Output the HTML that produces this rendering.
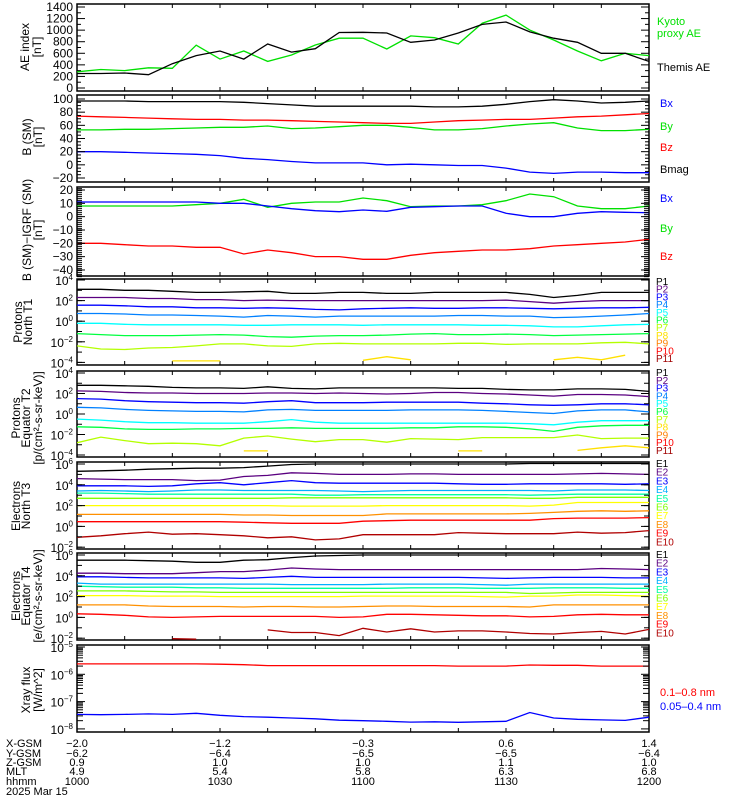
<!DOCTYPE html>
<html><head><meta charset="utf-8">
<style>
html,body{margin:0;padding:0;background:#fff;}
svg{display:block;font-family:"Liberation Sans",sans-serif;}
</style></head>
<body>
<svg id="chart" width="750" height="800" viewBox="0 0 750 800" xmlns="http://www.w3.org/2000/svg">
<rect x="0" y="0" width="750" height="800" fill="#fff"/>
<g id="panels"></g>
</svg>
<script>
// ---- data (5-minute samples, 10:00 - 12:00) ----
const minutes = [0,5,10,15,20,25,30,35,40,45,50,55,60,65,70,75,80,85,90,95,100,105,110,115,120];
const timeTicks = ['1000','1030','1100','1130','1200'];
const xgsm = ['-2.0','-1.2','-0.3','0.6','1.4'];
const ygsm = ['-6.2','-6.4','-6.5','-6.5','-6.4'];
const zgsm = ['0.9','1.0','1.0','1.1','1.0'];
const mlt = ['4.9','5.4','5.8','6.3','6.8'];

const themisAE = [250,250,260,230,420,560,640,500,760,620,680,960,962,950,790,830,950,1100,1140,970,860,790,600,600,460];
const kyotoAE = [280,320,300,350,340,740,500,640,460,570,743,860,860,674,900,870,760,1120,1260,1000,830,640,470,600,560];
const aeTicks = [0,200,400,600,800,1000,1200,1400];

const bBx = [20,20,19,18,17,16,14,10,8,5,3,3,3,0,1,0,-1,-1,-5,-11,-13,-11,-11,-12,-12];
const bBy = [53,53,54,54,55,56,57,57,59,55,56,58,60,60,57,53,53,55,59,62,64,56,52,52,54];
const bBz = [74,73,72,71,70,69,69,68,68,67,66,65,64,63,63,65,67,68,69,69,71,73,74,76,78];
const bMag = [97,97,97,96,96,96,96,95,93,91,89,89,89,89,89,88,88,89,92,96,99,97,94,95,97];
const bTicks = [-20,0,20,40,60,80,100];

const dBx = [11,11,11,11,11,11,10,10,8,6,4.5,3.7,5,4,7,7.5,8,8,2.5,0,0,2.5,3.7,3.3,3];
const dBy = [8,8,8,8,8,9,10,13,7,10,11,11,14,12,7.5,8,8,9,12,17,15,8,6,6,8];
const dBz = [-20,-20,-21,-22,-22,-23,-23,-28,-25,-27,-30,-30,-32,-32,-29,-27,-26,-25,-25,-24,-22,-21,-20,-19,-17];
const dbTicks = [-40,-30,-20,-10,0,10,20];

// log10 fluxes
const pN = [
 [3.1,3.1,3.0,3.0,2.9,2.8,2.8,2.85,2.9,2.7,2.7,2.8,2.8,2.7,2.7,2.8,2.8,2.8,2.8,2.6,2.3,2.5,2.8,2.8,2.8],
 [2.3,2.3,2.3,2.2,2.2,2.1,2.1,2.0,2.05,2.0,2.0,2.0,2.0,2.0,2.0,2.0,2.0,2.0,2.05,1.9,1.75,1.9,2.0,2.0,2.0],
 [1.55,1.55,1.5,1.4,1.4,1.3,1.3,1.25,1.3,1.25,1.15,1.1,1.2,1.25,1.3,1.25,1.25,1.3,1.3,1.25,1.2,1.25,1.3,1.3,1.35],
 [0.75,0.75,0.7,0.6,0.6,0.55,0.5,0.4,0.55,0.5,0.4,0.5,0.5,0.5,0.5,0.5,0.55,0.55,0.5,0.5,0.35,0.4,0.5,0.6,0.75],
 [-0.2,-0.2,-0.3,-0.35,-0.35,-0.35,-0.35,-0.4,-0.4,-0.35,-0.35,-0.35,-0.4,-0.35,-0.35,-0.35,-0.35,-0.4,-0.4,-0.45,-0.55,-0.55,-0.45,-0.35,-0.3],
 [-1.2,-1.3,-1.4,-1.4,-1.4,-1.35,-1.3,-1.35,-1.5,-1.55,-1.45,-1.4,-1.4,-1.35,-1.25,-1.2,-1.3,-1.3,-1.25,-1.3,-1.4,-1.35,-1.3,-1.25,-1.2],
 [-2.4,-2.7,-2.75,-2.6,-2.55,-2.4,-2.2,-2.2,-2.4,-2.45,-2.2,-2.15,-2.2,-2.2,-2.2,-2.2,-2.15,-2.15,-2.25,-2.2,-2.2,-2.2,-2.1,-2.05,-2.2],
 [null,null,null,null,-3.85,-3.85,-3.85,null,null,null,null,null,-3.8,-3.45,-3.75,null,null,null,null,null,-3.75,-3.5,-3.75,-3.3,null]
];
const pE = [
 [2.8,2.8,2.75,2.7,2.6,2.55,2.55,2.5,2.65,2.5,2.45,2.55,2.55,2.55,2.55,2.55,2.5,2.5,2.4,2.35,2.35,2.45,2.45,2.4,2.2],
 [2.25,2.2,2.1,2.05,2.05,2.0,2.0,2.0,2.05,2.05,2.0,2.05,2.0,1.95,2.0,2.1,2.1,2.0,1.95,1.85,1.75,1.9,1.9,1.85,1.7],
 [1.5,1.45,1.3,1.2,1.15,1.1,1.1,1.05,1.2,1.3,1.1,1.1,1.1,1.15,1.15,1.15,1.15,1.05,1.0,0.9,0.85,0.9,1.0,1.0,0.9],
 [0.65,0.6,0.45,0.35,0.3,0.25,0.25,0.2,0.4,0.45,0.35,0.35,0.35,0.35,0.4,0.4,0.4,0.35,0.25,0.15,0.05,0.3,0.4,0.4,0.2],
 [-0.5,-0.6,-0.75,-0.85,-0.85,-0.9,-0.9,-0.9,-0.75,-0.55,-0.8,-0.9,-0.9,-0.9,-0.9,-0.9,-0.9,-0.9,-0.9,-0.95,-1.05,-0.8,-0.65,-0.65,-0.65],
 [-1.25,-1.3,-1.45,-1.5,-1.5,-1.45,-1.45,-1.4,-1.4,-1.35,-1.4,-1.4,-1.4,-1.4,-1.35,-1.35,-1.25,-1.25,-1.3,-1.45,-1.7,-1.3,-1.15,-1.1,-1.1],
 [-2.8,-2.25,-2.6,-2.9,-2.85,-2.9,-3.1,-2.35,-2.15,-2.45,-2.7,-2.5,-2.5,-2.75,-2.4,-2.45,-2.5,-2.3,-2.3,-2.3,-2.3,-2.05,-2.4,-2.35,-2.35],
 [null,null,null,null,null,null,null,-3.6,-3.6,null,null,null,null,null,null,null,-3.6,-3.6,null,null,null,-3.55,-3.3,-3.1,-3.3]
];
const eN = [
 [5.3,5.35,5.4,5.5,5.55,5.6,5.6,5.65,5.8,5.95,6.0,6.0,6.0,6.0,6.0,6.0,6.0,6.0,6.0,6.05,6.05,6.05,6.05,6.05,6.05],
 [4.6,4.55,4.5,4.5,4.5,4.4,4.45,4.8,4.9,5.15,5.1,5.0,5.0,5.0,5.05,5.05,5.0,5.0,5.0,5.0,5.0,5.05,5.1,5.05,5.0],
 [3.9,3.9,3.9,3.85,3.9,4.1,4.2,4.0,4.2,4.4,4.2,4.15,4.15,4.15,4.15,4.15,4.1,4.05,4.05,4.1,4.1,4.1,4.1,4.05,4.1],
 [3.4,3.45,3.4,3.35,3.4,3.5,3.5,3.45,3.45,3.45,3.45,3.4,3.35,3.4,3.45,3.45,3.45,3.45,3.45,3.45,3.4,3.5,3.5,3.5,3.45],
 [3.2,3.2,3.15,3.1,3.1,3.1,3.1,3.1,3.1,3.1,3.0,3.0,3.05,3.05,3.05,3.05,3.05,3.05,3.05,3.0,3.05,3.1,3.1,3.1,3.1],
 [2.7,2.7,2.7,2.7,2.7,2.7,2.7,2.7,2.7,2.75,2.75,2.75,2.75,2.75,2.75,2.75,2.75,2.75,2.75,2.7,2.7,2.8,2.8,2.8,2.8],
 [2.0,2.0,2.0,2.0,2.0,2.0,2.0,2.0,2.0,1.95,1.95,1.95,1.95,2.0,2.0,2.0,2.0,2.0,2.0,1.95,2.05,2.3,2.3,2.3,2.3],
 [1.15,1.15,1.15,1.15,1.15,1.15,1.15,1.1,1.1,1.05,1.05,1.05,1.05,1.2,1.2,1.2,1.2,1.2,1.2,1.25,1.35,1.45,1.5,1.45,1.5],
 [0.45,0.45,0.45,0.45,0.45,0.45,0.45,0.4,0.35,0.3,0.3,0.3,0.5,0.55,0.6,0.6,0.6,0.6,0.6,0.6,0.75,0.8,0.8,0.8,0.85],
 [-1.05,-0.9,-0.7,-0.55,-0.75,-0.7,-0.8,-0.9,-1.1,-1.0,-1.3,-1.2,-0.8,-0.8,-0.8,-0.8,-0.6,-0.65,-0.7,-0.7,-0.7,-0.55,-0.65,-0.6,-0.4]
];
const eE = [
 [5.5,5.5,5.5,5.45,5.4,5.3,5.3,5.5,5.55,5.75,5.9,5.95,6.0,6.0,6.0,6.0,6.0,6.0,6.0,6.0,6.0,6.0,6.0,6.0,6.0],
 [4.25,4.25,4.2,4.2,4.2,4.3,4.4,4.4,4.55,4.75,4.65,4.6,4.6,4.6,4.6,4.6,4.6,4.6,4.6,4.6,4.6,4.6,4.7,4.65,4.6],
 [3.9,3.9,3.85,3.8,3.8,3.8,3.8,3.75,3.85,3.95,3.85,3.85,3.85,3.85,3.85,3.85,3.85,3.8,3.75,3.8,3.85,3.85,3.85,3.8,3.8],
 [3.3,3.2,3.2,3.2,3.2,3.2,3.2,3.2,3.2,3.15,3.15,3.15,3.15,3.2,3.2,3.2,3.2,3.15,3.1,3.2,3.2,3.2,3.2,3.2,3.2],
 [3.0,2.95,2.9,2.9,2.9,2.85,2.85,2.8,2.8,2.8,2.8,2.8,2.8,2.8,2.85,2.85,2.85,2.8,2.8,2.8,2.85,2.85,2.85,2.8,2.8],
 [2.55,2.55,2.55,2.5,2.45,2.45,2.4,2.4,2.4,2.4,2.4,2.4,2.4,2.4,2.4,2.4,2.4,2.4,2.4,2.3,2.35,2.4,2.4,2.4,2.4],
 [2.1,2.1,2.1,2.05,2.05,2.05,2.0,2.0,2.0,2.0,2.0,2.0,2.05,2.05,2.05,2.05,2.05,2.0,1.95,2.05,2.05,2.15,2.15,2.1,2.05],
 [1.2,1.2,1.2,1.1,1.05,1.05,1.05,1.0,1.05,1.05,1.0,1.0,1.05,1.1,1.1,1.05,1.05,1.05,1.05,1.0,1.2,1.2,1.2,1.2,1.2],
 [0.35,0.3,0.2,0.05,0.0,0.05,0.1,0.1,0.1,0.1,0.1,0.0,0.05,0.3,0.3,0.25,0.2,0.15,0.15,0.05,0.1,0.25,0.3,0.25,0.25],
 [null,null,null,null,-2.05,-2.1,null,null,-1.2,-1.45,-1.45,-1.75,-1.05,-1.4,-1.1,-1.4,-1.3,-1.3,-1.4,-1.55,-1.6,-1.45,-1.35,-1.6,-1.15]
];
const xrayLong = [-5.62,-5.62,-5.62,-5.62,-5.62,-5.62,-5.63,-5.65,-5.68,-5.68,-5.68,-5.68,-5.68,-5.68,-5.68,-5.68,-5.7,-5.7,-5.7,-5.66,-5.67,-5.67,-5.7,-5.7,-5.7];
const xrayShort = [-7.47,-7.48,-7.47,-7.45,-7.47,-7.43,-7.5,-7.55,-7.57,-7.6,-7.63,-7.68,-7.7,-7.72,-7.75,-7.74,-7.76,-7.74,-7.72,-7.4,-7.6,-7.65,-7.67,-7.69,-7.57];

const pLabels = ['P1','P2','P3','P4','P5','P6','P7','P8','P9','P10','P11'];
const pColors = ['#000000','#5a0080','#0000ff','#0080ff','#00ffff','#00ff40','#b4ff00','#ffe000','#ff8000','#ff0000','#a00000'];
const eLabels = ['E1','E2','E3','E4','E5','E6','E7','E8','E9','E10'];
const eColors = ['#000000','#5a0080','#0000ff','#00b0ff','#00ffa0','#80ff00','#ffff00','#ff9000','#ff0000','#b00000'];

// ---- drawing ----
const NS = 'http://www.w3.org/2000/svg';
const root = document.getElementById('panels');
const X0 = 77, X1 = 649, TMAX = 120;
function xs(t){ return X0 + t / TMAX * (X1 - X0); }
function el(tag, attrs, parent){
  const e = document.createElementNS(NS, tag);
  for (const k in attrs) e.setAttribute(k, attrs[k]);
  (parent || root).appendChild(e);
  return e;
}
function txt(x, y, s, opts, parent){
  const t = el('text', Object.assign({x:x, y:y, 'font-size':12, fill:'#000'}, opts||{}), parent);
  t.textContent = s;
  return t;
}
function supTxt(x, y, base, exp, parent){
  const t = el('text', {x:x, y:y, 'font-size':12, 'text-anchor':'end', fill:'#000'}, parent);
  const a = document.createElementNS(NS,'tspan'); a.textContent = base; t.appendChild(a);
  const b = document.createElementNS(NS,'tspan'); b.setAttribute('dy','-5'); b.setAttribute('font-size','8'); b.textContent = exp; t.appendChild(b);
  return t;
}
function series(vals, yf, color, name, parent){
  let d = '', pen = false;
  for (let i = 0; i < vals.length; i++){
    const v = vals[i];
    if (v === null || v === undefined){ pen = false; continue; }
    const x = xs(minutes[i]).toFixed(1), y = yf(v).toFixed(1);
    d += (pen ? 'L' : 'M') + x + ' ' + y + ' ';
    pen = true;
  }
  const p = el('path', {d:d, fill:'none', stroke:color, 'stroke-width':1.3}, parent);
  
  
  return p;
}
function frame(top, bot, name){
  const g = el('g', {});
  
  
  const clipId = 'c' + Math.round(top);
  const cp = el('clipPath', {id:clipId}, g);
  el('rect', {x:X0, y:top, width:X1-X0, height:bot-top}, cp);
  el('rect', {x:X0, y:top, width:X1-X0, height:bot-top, fill:'none', stroke:'#000', 'stroke-width':1.5}, g);
  for (let m = 0; m <= TMAX; m += 10){
    const x = xs(m);
    el('line', {x1:x, x2:x, y1:top, y2:top+4, stroke:'#000'}, g);
    el('line', {x1:x, x2:x, y1:bot, y2:bot-4, stroke:'#000'}, g);
  }
  const data = el('g', {'clip-path':'url(#'+clipId+')'}, g);
  return {g:g, data:data};
}
function yTick(g, y, len){
  el('line', {x1:X0, x2:X0+len, y1:y, y2:y, stroke:'#000'}, g);
  el('line', {x1:X1, x2:X1-len, y1:y, y2:y, stroke:'#000'}, g);
}
function yTitle(lines, cy, g){
  lines.forEach(function(l){
    const t = el('text', {x:l[0], y:cy, 'font-size':12, 'text-anchor':'middle', transform:'rotate(-90 '+l[0]+' '+cy+')'}, g);
    t.textContent = l[1];
    
    
  });
}
function legend(g, x, y, s, color){
  const t = txt(x, y, s, {fill:color, 'font-size':11}, g);
  
  
}

// Panel 1 AE
(function(){
  const top=4, bot=91;
  const y = function(v){ return 88 - v/1400*81; };
  const f = frame(top, bot, 'ae-index-panel');
  aeTicks.forEach(function(v){ yTick(f.g, y(v), 8); txt(73, y(v)+4, String(v), {'text-anchor':'end'}, f.g); });
  for (let v=100; v<1400; v+=200) yTick(f.g, y(v), 4);
  series(kyotoAE, y, '#00e000', 'kyoto-ae-line', f.data);
  series(themisAE, y, '#000', 'themis-ae-line', f.data);
  yTitle([[29,'AE index'],[41,'[nT]']], 47, f.g);
  legend(f.g, 657, 25, 'Kyoto', '#00e000');
  legend(f.g, 657, 37, 'proxy AE', '#00e000');
  legend(f.g, 657, 71, 'Themis AE', '#000');
})();

// Panel 2 B(SM)
(function(){
  const top=95, bot=182;
  const y = function(v){ return 178 - (v+20)/120*79; };
  const f = frame(top, bot, 'b-sm-panel');
  bTicks.forEach(function(v){ yTick(f.g, y(v), 8); txt(73, y(v)+4, String(v).replace('-','\u2212'), {'text-anchor':'end'}, f.g); });
  for (let v=-15; v<=100; v+=5) if (v%20) yTick(f.g, y(v), 4);
  series(bMag, y, '#000', 'bmag-line', f.data);
  series(bBz, y, '#ff0000', 'bz-line', f.data);
  series(bBy, y, '#00e000', 'by-line', f.data);
  series(bBx, y, '#0000ff', 'bx-line', f.data);
  yTitle([[31,'B (SM)'],[42,'[nT]']], 137, f.g);
  legend(f.g, 660, 107, 'Bx', '#0000ff');
  legend(f.g, 660, 130, 'By', '#00e000');
  legend(f.g, 660, 151, 'Bz', '#ff0000');
  legend(f.g, 660, 173, 'Bmag', '#000');
})();

// Panel 3 B-IGRF
(function(){
  const top=187, bot=276;
  const y = function(v){ return 190 + (20-v)*1.333; };
  const f = frame(top, bot, 'b-minus-igrf-panel');
  dbTicks.forEach(function(v){ yTick(f.g, y(v), 8); txt(73, y(v)+4, String(v).replace('-','\u2212'), {'text-anchor':'end'}, f.g); });
  for (let v=-45; v<=22; v+=1.5) { el('line',{x1:X0,x2:X0+5,y1:y(v),y2:y(v),stroke:'#000'},f.g); el('line',{x1:X1,x2:X1-5,y1:y(v),y2:y(v),stroke:'#000'},f.g); }
  series(dBz, y, '#ff0000', 'dbz-line', f.data);
  series(dBy, y, '#00e000', 'dby-line', f.data);
  series(dBx, y, '#0000ff', 'dbx-line', f.data);
  yTitle([[31,'B (SM)\u2212IGRF (SM)'],[42,'[nT]']], 230, f.g);
  legend(f.g, 660, 202, 'Bx', '#0000ff');
  legend(f.g, 660, 232, 'By', '#00e000');
  legend(f.g, 660, 260, 'Bz', '#ff0000');
})();

function logPanel(top, bot, yTopVal, yTopPix, pxPerDec, labelExps, sets, colors, labels, name, legTop, legStep){
  const y = function(v){ return yTopPix + (yTopVal - v) * pxPerDec; };
  const f = frame(top, bot, name);
  labelExps.forEach(function(e){
    yTick(f.g, y(e), 8);
    supTxt(73, y(e)+5, '10', String(e).replace('-','\u2212'), f.g);
  });
  for (let e = Math.ceil(yTopVal - (bot-yTopPix)/pxPerDec); e <= yTopVal; e++) yTick(f.g, y(e), 5);
  sets.forEach(function(s, i){ series(s, y, colors[i], 'series-' + labels[i].toLowerCase(), f.data); });
  labels.forEach(function(l, i){
    const t = txt(656, legTop + i*legStep, l, {fill:colors[i], 'font-size':10}, f.g);
    
    
  });
  return f;
}

const f4 = logPanel(279, 365, 4, 280, 10.3, [4,2,0,-2,-4], pN, pColors, pLabels, 'protons-north-t1-panel', 285, 7.7);
yTitle([[22,'Protons'],[32,'North T1']], 322, f4.g);
const f5 = logPanel(371, 457, 4, 373, 10.25, [4,2,0,-2,-4], pE, pColors, pLabels, 'protons-equator-t2-panel', 376, 7.8);
yTitle([[20,'Protons'],[30,'Equator T2'],[42,'[p/(cm\u00b2-s-sr-keV)]']], 418, f5.g);
const f6 = logPanel(462, 549, 6, 464, 10.4, [6,4,2,0,-2], eN, eColors, eLabels, 'electrons-north-t3-panel', 467, 8.7);
yTitle([[20,'Electrons'],[30,'North T3']], 506, f6.g);
const f7 = logPanel(553, 640, 6, 555, 10.4, [6,4,2,0,-2], eE, eColors, eLabels, 'electrons-equator-t4-panel', 558, 8.7);
yTitle([[20,'Electrons'],[30,'Equator T4'],[42,'[e/(cm\u00b2-s-sr-keV)]']], 596, f7.g);

// Panel 8 X-ray
(function(){
  const top=645, bot=732;
  const y = function(v){ return 647 + (-5 - v) * 27.3; };
  const f = frame(top, bot, 'xray-flux-panel');
  [-5,-6,-7,-8].forEach(function(e){ yTick(f.g, y(e), 8); supTxt(73, y(e)+5, '10', String(e).replace('-','\u2212'), f.g); });
  for (let e=-8; e<-5; e++) for (let m=2; m<=9; m++){ const v = e + Math.log10(m); if (y(v)>top) yTick(f.g, y(v), 6); }
  series(xrayLong, y, '#ff0000', 'xray-long-line', f.data);
  series(xrayShort, y, '#0000ff', 'xray-short-line', f.data);
  yTitle([[30,'Xray flux'],[42,'[W/m^2]']], 690, f.g);
  legend(f.g, 660, 696, '0.1\u20130.8 nm', '#ff0000');
  legend(f.g, 660, 710, '0.05\u20130.4 nm', '#0000ff');
})();

// Bottom ephemeris rows
(function(){
  const g = el('g', {});
  
  
  const rows = [['X-GSM', xgsm, 747],['Y-GSM', ygsm, 757],['Z-GSM', zgsm, 766],['MLT', mlt, 775],['hhmm', timeTicks, 785]];
  rows.forEach(function(r){
    txt(6, r[2], r[0], {'font-size':11}, g);
    r[1].forEach(function(v, i){
      txt(xs(i*30), r[2], v.replace('-','\u2212'), {'font-size':11, 'text-anchor':'middle'}, g);
    });
  });
  txt(6, 795, '2025 Mar 15', {'font-size':11}, g);
})();
</script>
</body></html>
